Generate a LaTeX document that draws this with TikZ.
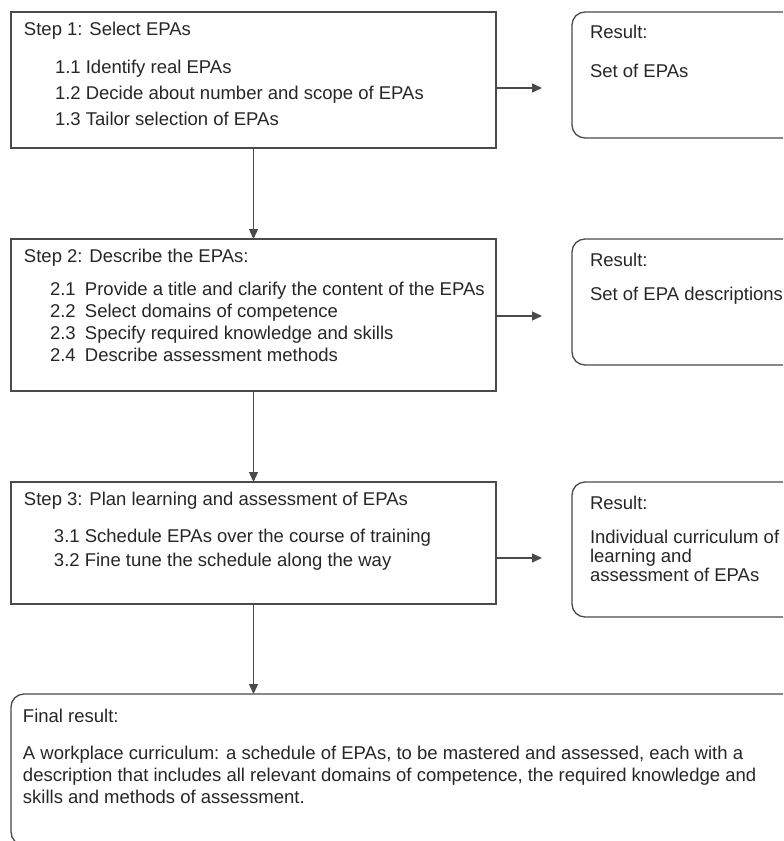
\documentclass[tikz,border=0pt]{standalone}
\usepackage{fontspec}
\setmainfont{Liberation Sans}
\usetikzlibrary{arrows.meta}
\definecolor{linegray}{HTML}{4A4A4A}
\definecolor{textgray}{HTML}{262626}

\begin{document}
\begin{tikzpicture}
  [x=0.5pt,y=-0.5pt,
   every node/.style={inner sep=0,outer sep=0},
   stepbox/.style={draw=linegray,line width=0.65pt,anchor=north west,minimum width=242.5pt},
   resbox/.style={stepbox,rounded corners=6.5pt,minimum width=114pt},
   txt/.style={anchor=base west,text=textgray,font=\fontsize{9.25}{11}\selectfont},
   arr/.style={draw=linegray,line width=0.65pt,-{Triangle[length=5pt,width=4.5pt]}}]
  \path[use as bounding box,clip] (0,0) rectangle (783,841);

  % boxes
  \node[stepbox,minimum height=68pt] (step1) at (11,12)  {};
  \node[stepbox,minimum height=76pt] (step2) at (11,239) {};
  \node[stepbox,minimum height=61pt] (step3) at (11,482) {};
  \node[resbox,minimum height=63pt]   (res1) at (572,12)  {};
  \node[resbox,minimum height=63pt]   (res2) at (572,239) {};
  \node[resbox,minimum height=67.5pt] (res3) at (572,482) {};
  \node[resbox,minimum width=394.5pt,minimum height=75.5pt] (final) at (11,694) {};

  % step texts
  \node[txt] (title1) at (24,35) {Step 1: Select EPAs};
  \foreach \y/\s [count=\i] in {73/Identify real EPAs,99/Decide about number and scope of EPAs,125/Tailor selection of EPAs}
    \node[txt] (item1-\i) at (55,\y) {1.\i\ \s};

  \node[txt] (title2) at (24,262) {Step 2: Describe the EPAs:};
  \foreach \y/\s [count=\i] in {295/Provide a title and clarify the content of the EPAs,317/Select domains of competence,339/Specify required knowledge and skills,361/Describe assessment methods}
    \node[txt] (item2-\i) at (50,\y) {2.\i\hspace{0.5em}\s};

  \node[txt] (title3) at (24,505) {Step 3: Plan learning and assessment of EPAs};
  \foreach \y/\s [count=\i] in {542/Schedule EPAs over the course of training,566/Fine tune the schedule along the way}
    \node[txt] (item3-\i) at (54,\y) {3.\i\ \s};

  % result texts
  \node[txt] (head1) at (590,38)  {Result:};
  \node[txt] (body1) at (590,77)  {Set of EPAs};
  \node[txt] (head2) at (590,266) {Result:};
  \node[txt] (body2) at (590,300) {Set of EPA descriptions};
  \node[txt] (head3) at (590,509) {Result:};
  \foreach \y/\s [count=\i] in {543/Individual curriculum of,562/learning and,581/assessment of EPAs}
    \node[txt] (body3-\i) at (590,\y) {\s};

  \node[txt] (headf) at (23,722) {Final result:};
  \foreach \y/\s [count=\i] in {759/{A workplace curriculum: a schedule of EPAs, to be mastered and assessed, each with a},781/{description that includes all relevant domains of competence, the required knowledge and},803/{skills and methods of assessment.}}
    \node[txt] (bodyf-\i) at (23,\y) {\s};

  % connectors
  \coordinate (end1) at (542,88);
  \coordinate (end2) at (542,316);
  \coordinate (end3) at (542,558);

  \foreach \from/\to in {step1/step2,step2/step3}
    \draw[arr] (\from) -- (\to);
  \draw[arr] (step3) -- (step3 |- final.north);

  \foreach \n in {1,2,3}
    \draw[arr] (end\n -| step\n.east) -- (end\n);

\end{tikzpicture}
\end{document}
